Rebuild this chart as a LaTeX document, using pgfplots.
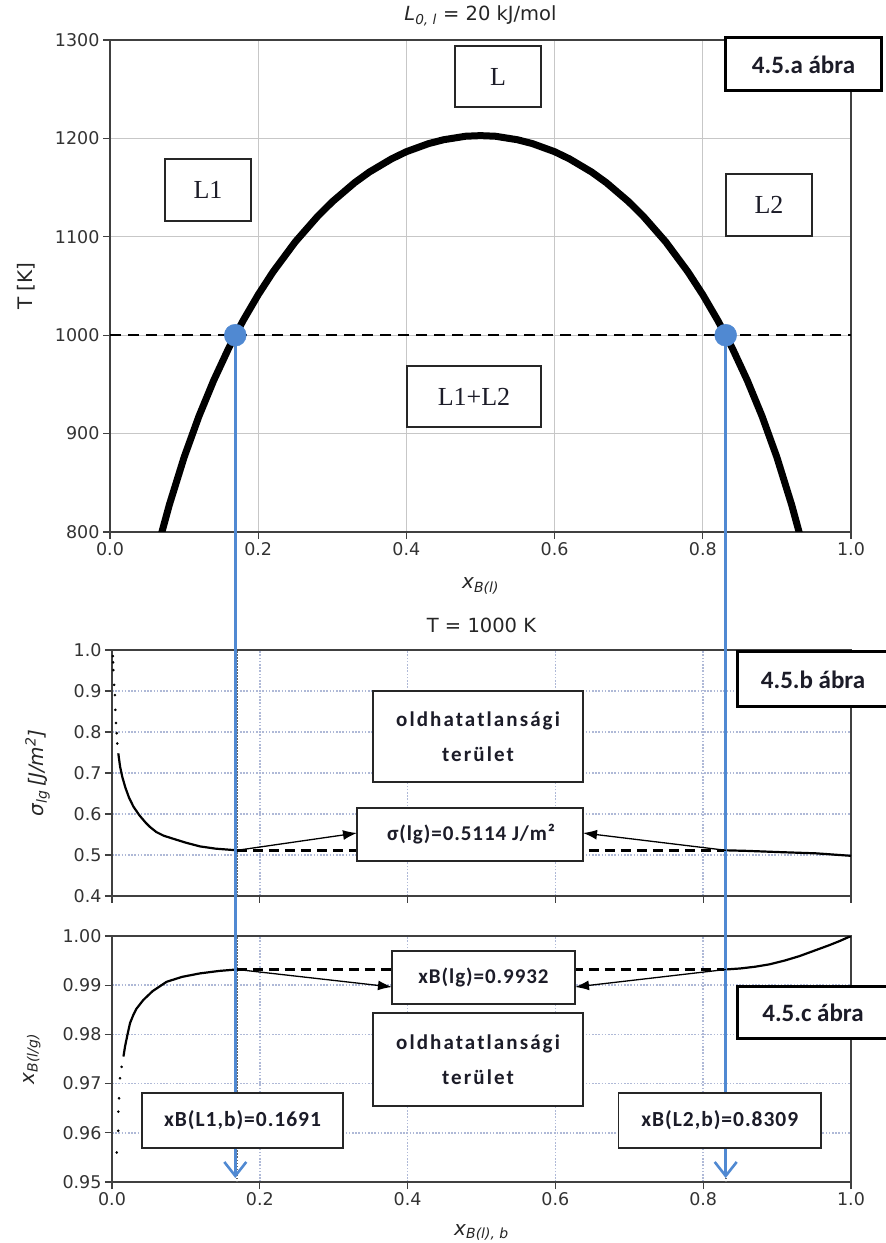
\documentclass[border=0pt]{standalone}
\usepackage{fontspec}
\setmainfont{DejaVu Sans}
\newfontfamily\boxsans[LetterSpace=10]{Carlito}
\newfontfamily\boxsansb[LetterSpace=4.5]{Carlito}
\newfontfamily\abrafont{Carlito}
\newfontfamily\boxserif{Liberation Serif}
\usepackage{pgfplots}
\pgfplotsset{compat=1.18}
\usetikzlibrary{arrows.meta}
\definecolor{bluec}{RGB}{80,137,210}
\definecolor{gridb}{RGB}{175,185,215}
\definecolor{boxtxt}{RGB}{28,28,40}

\pgfplotsset{
  base/.style={
    scale only axis, xmin=0, xmax=1,
    xtick={0,0.2,0.4,0.6,0.8,1},
    axis line style={black!75, line width=1.4pt},
    every tick/.style={black!75, line width=1.2pt},
    major tick length=7pt, tick align=outside, tick pos=left,
    /pgf/number format/assume math mode=true,
    /pgf/number format/1000 sep={},
    ticklabel style={font=\fontsize{17.5}{20}\selectfont, text=black!80},
    xticklabel style={/pgf/number format/.cd, fixed, fixed zerofill, precision=1},
    label style={font=\fontsize{20}{24}\selectfont, text=black!85},
    title style={font=\fontsize{19.5}{24}\selectfont, text=black!85, at={(0.5,1)}, anchor=base},
  },
  dotgrid/.style={grid=major, major grid style={gridb, line width=1.6pt, dash pattern=on 1.6pt off 1.6pt}},
}

\begin{document}
\begin{tikzpicture}
\path[use as bounding box] (0,0) rectangle (886pt,1243pt);

% ---------------- top axis ----------------
\begin{axis}[base, at={(110pt,711pt)}, anchor=south west, width=741pt, height=492pt,
  ymin=800, ymax=1300, ytick={800,900,1000,1100,1200,1300},
  grid=major, major grid style={black!22, line width=1.3pt},
  title={\textit{L}\textsubscript{\textit{0, l}} = 20 kJ/mol},
  title style={yshift=13pt},
  xlabel={\textit{x}\textsubscript{\textit{B(l)}}},
  xlabel style={at={(axis description cs:0.5,0)}, anchor=base, yshift=-57pt},
  ylabel={T [K]},
  ylabel style={at={(axis description cs:-0.104,0.5)}, rotate=0, anchor=base},
]
\addplot[black, line width=7pt, line join=round] table {
x T
0.065 785
0.07 799.8
0.08 827.4
0.10 875.9
0.12 917.6
0.14 954.1
0.16 986.5
0.1691 1000
0.18 1015.3
0.20 1041.1
0.22 1064.3
0.25 1094.8
0.28 1120.6
0.30 1135.6
0.33 1154.9
0.35 1165.8
0.38 1179.2
0.40 1186.5
0.43 1194.7
0.45 1198.6
0.48 1202.2
0.50 1202.8
0.52 1202.2
0.55 1198.6
0.57 1194.7
0.60 1186.5
0.62 1179.2
0.65 1165.8
0.67 1154.9
0.70 1135.6
0.72 1120.6
0.75 1094.8
0.78 1064.3
0.80 1041.1
0.82 1015.3
0.8309 1000
0.84 986.5
0.86 954.1
0.88 917.6
0.90 875.9
0.92 827.4
0.93 799.8
0.935 785
};
\addplot[black, line width=2.6pt, dash pattern=on 11pt off 7pt] coordinates {(0,1000) (1,1000)};
\addplot[only marks, mark=*, mark size=11pt, color=bluec] coordinates {(0.1691,1000) (0.8309,1000)};
\coordinate (T1) at (axis cs:0.1691,1000);
\coordinate (T2) at (axis cs:0.8309,1000);
\end{axis}

% ---------------- middle axis ----------------
\begin{axis}[base, dotgrid, at={(112pt,347pt)}, anchor=south west, width=739pt, height=246pt,
  ymin=0.4, ymax=1.0, ytick={0.4,0.5,0.6,0.7,0.8,0.9,1.0},
  yticklabel style={/pgf/number format/.cd, fixed, fixed zerofill, precision=1},
  xticklabels={},
  title={T = 1000 K}, title style={yshift=12pt},
  ylabel={\textit{σ}\textsubscript{\textit{lg}}\,\textit{[J/m\textsuperscript{2}]}},
  ylabel style={at={(axis description cs:-0.093,0.5)}, rotate=0, anchor=base},
]
\addplot[black!60, line width=1.5pt, dash pattern=on 1.5pt off 1.5pt] coordinates {(0.1691,0.4) (0.1691,1.0)};
\addplot[black!60, line width=1.5pt, dash pattern=on 1.5pt off 1.5pt] coordinates {(0.8309,0.4) (0.8309,1.0)};
\addplot[black, line width=2.6pt, dash pattern=on 10pt off 6pt] coordinates {(0.1691,0.5114) (0.8309,0.5114)};
\addplot[only marks, mark=*, mark size=1.1pt, black] coordinates {
(0.0012,0.985) (0.0015,0.97) (0.0018,0.951) (0.003,0.915) (0.004,0.89) (0.0045,0.854) (0.0054,0.822) (0.0064,0.797) (0.0072,0.772)};
\addplot[black, line width=2.2pt, line join=round] coordinates {
(0.0085,0.748) (0.011,0.715) (0.014,0.69) (0.018,0.665) (0.023,0.64) (0.029,0.618)
(0.037,0.597) (0.045,0.58) (0.051,0.569) (0.06,0.556) (0.07,0.547) (0.0875,0.537)
(0.10,0.530) (0.119,0.521) (0.14,0.5155) (0.1691,0.5114)};
\addplot[black, line width=2.2pt, line join=round] coordinates {
(0.8309,0.5114) (0.86,0.5100) (0.904,0.507) (0.953,0.504) (1.0,0.498)};
\coordinate (S1) at (axis cs:0.1691,0.5114);
\coordinate (S2) at (axis cs:0.8309,0.5114);
\end{axis}

% ---------------- bottom axis ----------------
\begin{axis}[base, dotgrid, at={(112pt,61pt)}, anchor=south west, width=739pt, height=246pt,
  ymin=0.95, ymax=1.0, ytick={0.95,0.96,0.97,0.98,0.99,1.00},
  yticklabel style={/pgf/number format/.cd, fixed, fixed zerofill, precision=2},
  xlabel={\textit{x}\textsubscript{\textit{B(l), b}}},
  xlabel style={at={(axis description cs:0.5,0)}, anchor=base, yshift=-53pt},
  ylabel={\textit{x}\textsubscript{\textit{B(l/g)}}},
  ylabel style={at={(axis description cs:-0.1055,0.5)}, rotate=0, anchor=base},
]
\addplot[black!60, line width=1.5pt, dash pattern=on 1.5pt off 1.5pt] coordinates {(0.1691,0.95) (0.1691,1.0)};
\addplot[black!60, line width=1.5pt, dash pattern=on 1.5pt off 1.5pt] coordinates {(0.8309,0.95) (0.8309,1.0)};
\addplot[black, line width=2.6pt, dash pattern=on 10pt off 6pt] coordinates {(0.1691,0.9932) (0.8309,0.9932)};
\addplot[only marks, mark=*, mark size=1.1pt, black] coordinates {
(0.0064,0.956) (0.0085,0.9604) (0.0085,0.9643) (0.0095,0.967) (0.0108,0.9711) (0.013,0.9734)};
\addplot[black, line width=2.2pt, line join=round] coordinates {
(0.0155,0.9755) (0.0176,0.9775) (0.021,0.9800) (0.0244,0.9823) (0.029,0.9840) (0.033,0.9852)
(0.0424,0.987) (0.055,0.9888) (0.074,0.9907) (0.095,0.9917) (0.119,0.9924) (0.145,0.9929) (0.1691,0.9932)};
\addplot[black, line width=2.2pt, line join=round] coordinates {
(0.8309,0.9932) (0.85,0.99340) (0.87,0.99375) (0.89,0.99425) (0.91,0.99500) (0.93,0.99590)
(0.95,0.99700) (0.97,0.99810) (0.985,0.99900) (1.0,1.0)};
\coordinate (X1) at (axis cs:0.1691,0.9932);
\coordinate (X2) at (axis cs:0.8309,0.9932);
\coordinate (E1) at (axis cs:0.1691,0.9508);
\end{axis}

% ---------------- blue projection lines ----------------
\draw[bluec, line width=2.6pt, -{Straight Barb[length=14pt,width=22pt,line width=2.6pt]}] (T1) -- (T1 |- E1);
\draw[bluec, line width=2.6pt, -{Straight Barb[length=14pt,width=22pt,line width=2.6pt]}] (T2) -- (T2 |- E1);

% ---------------- boxes: top ----------------
\tikzset{bx/.style={draw=black!85, fill=white, line width=1.6pt}, tb/.style={draw=black, fill=white, line width=3pt}}
\draw[bx] (455pt,1136pt) rectangle (541pt,1197pt);
\node[text=boxtxt, font=\boxserif\fontsize{26}{30}\selectfont] at (498pt,1166.5pt) {L};
\draw[bx] (165pt,1022pt) rectangle (251pt,1084pt);
\node[text=boxtxt, font=\boxserif\fontsize{26}{30}\selectfont] at (208pt,1053pt) {L1};
\draw[bx] (726pt,1007pt) rectangle (812pt,1069pt);
\node[text=boxtxt, font=\boxserif\fontsize{26}{30}\selectfont] at (769pt,1038pt) {L2};
\draw[bx] (407pt,816pt) rectangle (541pt,877pt);
\node[text=boxtxt, font=\boxserif\fontsize{26}{30}\selectfont] at (474pt,846.5pt) {L1+L2};
\draw[tb] (725pt,1152pt) rectangle (881pt,1205pt);
\node[text=boxtxt, font=\abrafont\bfseries\fontsize{25}{30}\selectfont] at (803.5pt,1178.5pt) {4.5.a ábra};

% ---------------- boxes: middle ----------------
\draw[bx] (373pt,461pt) rectangle (583pt,552pt);
\node[text=boxtxt, align=center, font=\boxsans\bfseries\fontsize{21}{35}\selectfont] at (478pt,506.5pt) {oldhatatlansági\\terület};
\draw[bx] (357pt,382pt) rectangle (583pt,435pt);
\node[text=boxtxt, font=\boxsansb\bfseries\fontsize{21}{25}\selectfont] at (471pt,408.5pt) {σ(lg)=0.5114 J/m²};
\draw[tb] (737pt,536pt) rectangle (892pt,591pt);
\node[text=boxtxt, font=\abrafont\bfseries\fontsize{25}{30}\selectfont] at (813pt,563.5pt) {4.5.b ábra};
\draw[black, line width=1.3pt, -{Latex[length=14pt,width=10pt]}] (S1) -- (357pt,410pt);
\draw[black, line width=1.3pt, -{Latex[length=14pt,width=10pt]}] (S2) -- (583pt,410pt);

% ---------------- boxes: bottom ----------------
\draw[bx] (392pt,239pt) rectangle (575pt,292pt);
\node[text=boxtxt, font=\boxsansb\bfseries\fontsize{21}{25}\selectfont] at (483.5pt,265.5pt) {xB(lg)=0.9932};
\draw[bx] (373pt,137pt) rectangle (583pt,230pt);
\node[text=boxtxt, align=center, font=\boxsans\bfseries\fontsize{21}{35}\selectfont] at (478pt,183.5pt) {oldhatatlansági\\terület};
\draw[tb] (737pt,204pt) rectangle (892pt,256pt);
\node[text=boxtxt, font=\abrafont\bfseries\fontsize{25}{30}\selectfont] at (813pt,230pt) {4.5.c ábra};
\draw[bx] (142pt,95pt) rectangle (343pt,150pt);
\node[text=boxtxt, font=\boxsansb\bfseries\fontsize{21.5}{25}\selectfont] at (242.5pt,122.5pt) {xB(L1,b)=0.1691};
\draw[bx] (618.5pt,95pt) rectangle (821pt,150pt);
\node[text=boxtxt, font=\boxsansb\bfseries\fontsize{21.5}{25}\selectfont] at (719.75pt,122.5pt) {xB(L2,b)=0.8309};
\draw[black, line width=1.3pt, -{Latex[length=14pt,width=10pt]}] (X1) -- (392pt,256pt);
\draw[black, line width=1.3pt, -{Latex[length=14pt,width=10pt]}] (X2) -- (575pt,256pt);
\end{tikzpicture}
\end{document}
